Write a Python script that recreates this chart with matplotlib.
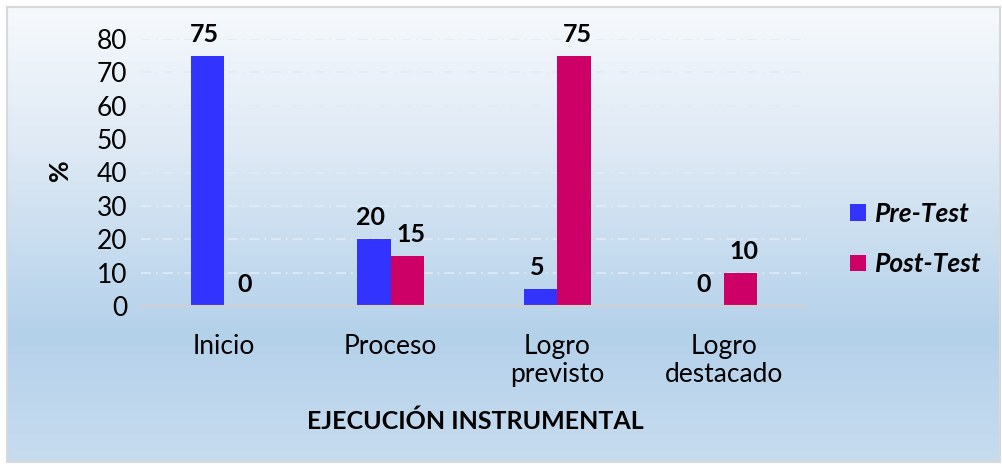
import matplotlib.pyplot as plt
import numpy as np
from matplotlib.colors import LinearSegmentedColormap

# Data
categories = ["Inicio", "Proceso", "Logro\nprevisto", "Logro\ndestacado"]
pre_test = [75, 20, 5, 0]
post_test = [0, 15, 75, 10]
series_names = ["Pre-Test", "Post-Test"]
yticks = [0, 10, 20, 30, 40, 50, 60, 70, 80]

W, H = 1003, 468
plt.rcParams['font.family'] = ['Lato', 'DejaVu Sans']

fig = plt.figure(figsize=(W / 100, H / 100), dpi=100)

# background with gradient and border
bg = fig.add_axes([7 / W, 6 / H, 993 / W, 455 / H])
bg_cmap = LinearSegmentedColormap.from_list(
    "bg", [(0.0, "#f6f9fc"), (0.3, "#dfeaf5"), (0.72, "#b4d1ea"), (1.0, "#c7dcef")])
bg.imshow(np.linspace(0, 1, 256)[:, None], cmap=bg_cmap, aspect='auto',
          extent=[0, 1, 1, 0])
bg.set_xticks([])
bg.set_yticks([])
for s in bg.spines.values():
    s.set_color('#d9d9d9')
    s.set_linewidth(1.5)

# plot area
ax = fig.add_axes([141 / W, (H - 306) / H, 666 / W, 267 / H])
ax.patch.set_alpha(0)
x = np.arange(len(categories))
bw = 0.2
ax.bar(x - bw / 2, pre_test, bw, color='#3333ff', label=series_names[0], zorder=3)
ax.bar(x + bw / 2, post_test, bw, color='#cc0066', label=series_names[1], zorder=3)

for xi, v in zip(x, pre_test):
    ax.text(xi - bw / 2 - 0.02, v + 3, str(v), ha='center', va='bottom',
            fontsize=18, fontweight='bold')
for xi, v in zip(x, post_test):
    ax.text(xi + bw / 2 + 0.02, v + 3, str(v), ha='center', va='bottom',
            fontsize=18, fontweight='bold')

ax.set_xlim(-0.5, len(categories) - 0.5)
ax.set_ylim(0, 80)
ax.set_yticks(yticks)
ax.tick_params(axis='y', length=0, labelsize=19, pad=10)
ax.set_xticks(x)
ax.set_xticklabels(categories, fontsize=19, linespacing=1.15)
ax.tick_params(axis='x', length=0, pad=20)
ax.yaxis.grid(True, color='#e0ebf6', linestyle='-.', linewidth=1.2, dashes=(6, 3, 1, 3))
ax.set_axisbelow(True)
for side in ['top', 'right', 'left']:
    ax.spines[side].set_visible(False)
ax.spines['bottom'].set_color('#d0d0d0')
ax.spines['bottom'].set_linewidth(1.5)
ax.spines['bottom'].set_zorder(4)

fig.text(60 / W, 1 - 170 / H, "%", rotation=90, ha='center', va='center',
         fontsize=19, fontweight='bold')
fig.text(475 / W, 1 - 421 / H, "EJECUCIÓN INSTRUMENTAL", ha='center', va='center',
         fontsize=18, fontweight='bold')

leg = fig.legend(loc='center left', bbox_to_anchor=(850 / W, 1 - 239 / H), frameon=False,
                 borderpad=0, borderaxespad=0,
                 handlelength=0.6, handleheight=0.6, handletextpad=0.35, labelspacing=1.0,
                 prop=dict(size=19, weight='bold', style='italic'))

fig.savefig("out.png", dpi=100)
